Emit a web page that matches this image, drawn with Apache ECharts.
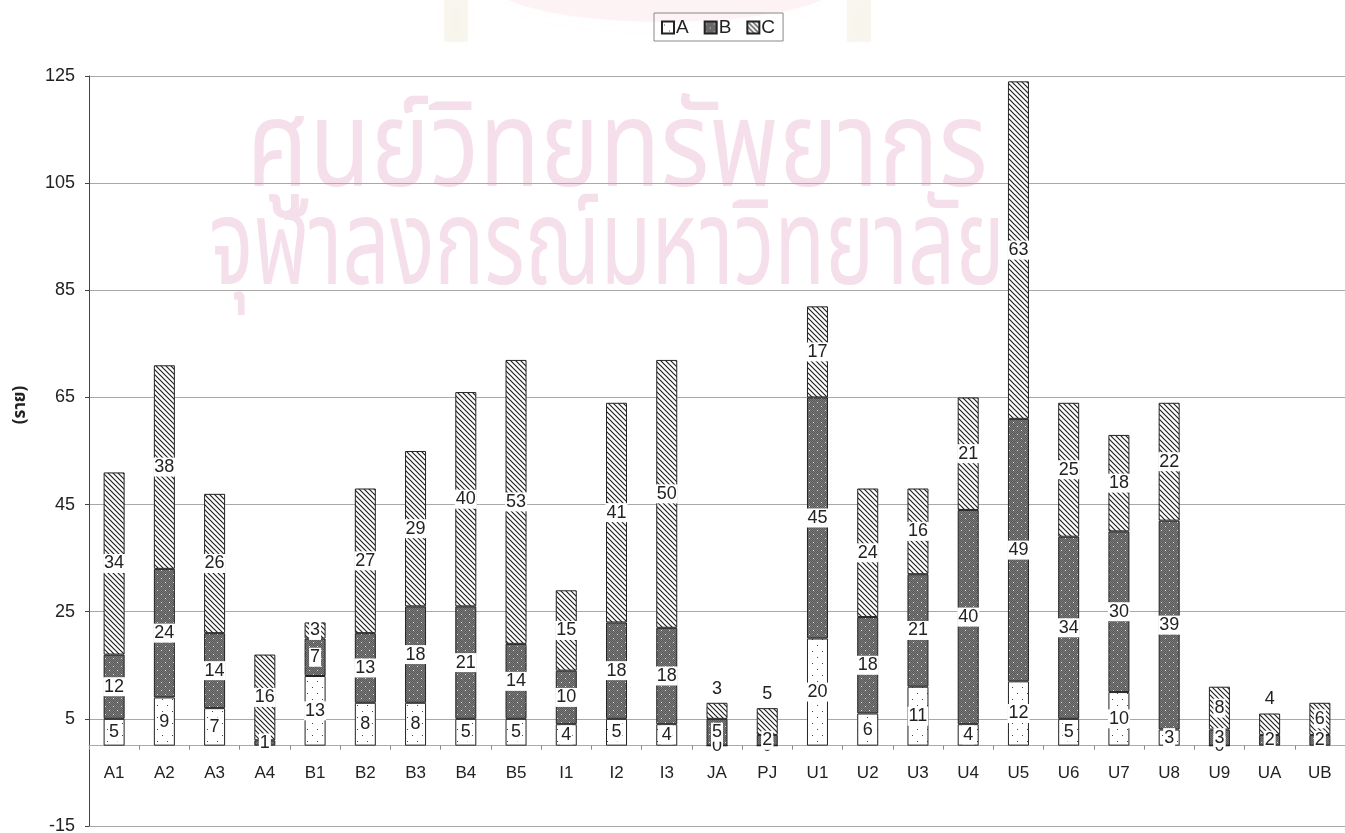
<!DOCTYPE html>
<html>
<head>
<meta charset="utf-8">
<script src="https://cdn.jsdelivr.net/npm/echarts@6/dist/echarts.min.js"></script>
<style>
  html, body { margin: 0; padding: 0; background: #fff; }
  #chart { width: 1345px; height: 833px; }
</style>
</head>
<body>
<div id="chart"></div>
<script>
// Categories along the x axis
const categories = ['A1','A2','A3','A4','B1','B2','B3','B4','B5','I1','I2','I3','JA','PJ','U1','U2','U3','U4','U5','U6','U7','U8','U9','UA','UB'];
// Stacked counts per group (ราย)
const valuesA = [5, 9, 7, null, 13, 8, 8, 5, 5, 4, 5, 4, 0, 0, 20, 6, 11, 4, 12, 5, 10, 3, 0, null, null];
const valuesB = [12, 24, 14, 1, 7, 13, 18, 21, 14, 10, 18, 18, 5, 2, 45, 18, 21, 40, 49, 34, 30, 39, 3, 2, 2];
const valuesC = [34, 38, 26, 16, 3, 27, 29, 40, 53, 15, 41, 50, 3, 5, 17, 24, 16, 21, 63, 25, 18, 22, 8, 4, 6];
const seriesNames = ['A', 'B', 'C'];
// Value axis range and step
const yMin = -15, yMax = 125, yStep = 20;
// Groups whose C label sits above the bar
const cLabelAbove = ['JA', 'PJ', 'UA'];

// Fill patterns for the three series
function makeTile(w, h, draw) {
  const c = document.createElement('canvas');
  c.width = w; c.height = h;
  draw(c.getContext('2d'), w, h);
  return c;
}
const tileA = makeTile(10, 12, (g, w, h) => {
  g.fillStyle = '#fff'; g.fillRect(0, 0, w, h);
  g.fillStyle = '#444';
  g.fillRect(2, 3, 1, 1);
  g.fillRect(7, 9, 1, 1);
});
const tileB = makeTile(8, 8, (g, w, h) => {
  g.fillStyle = '#787878'; g.fillRect(0, 0, w, h);
  g.fillStyle = '#5a5a5a';
  for (let y = 0; y < h; y++) for (let x = (y % 2); x < w; x += 2) g.fillRect(x, y, 1, 1);
  g.fillStyle = '#e6e6e6';
  g.fillRect(1, 2, 1, 1);
  g.fillRect(5, 6, 1, 1);
});
const tileC = makeTile(5, 5, (g, w, h) => {
  g.fillStyle = '#fff'; g.fillRect(0, 0, w, h);
  g.strokeStyle = '#222'; g.lineWidth = 1.2;
  g.beginPath();
  g.moveTo(-1, -1); g.lineTo(w + 1, h + 1);
  g.moveTo(-1, h - 1); g.lineTo(1, h + 1);
  g.moveTo(w - 1, -1); g.lineTo(w + 1, 1);
  g.stroke();
});
const fills = [tileA, tileB, tileC].map(t => ({ image: t, repeat: 'repeat' }));

const textFont = 'Liberation Sans, Arial, sans-serif';
const thaiFont = 'Noto Sans Thai, Loma, Garuda, Noto Sans, sans-serif';

// Plot box; the category axis is lifted from the bottom edge to the zero line
const gridBox = { left: 89, right: 0, top: 76, bottom: 7 };
const plotHeight = 833 - gridBox.top - gridBox.bottom;
const zeroOffset = -plotHeight * (0 - yMin) / (yMax - yMin);

const segLabel = {
  show: true,
  position: 'inside',
  color: '#222',
  fontSize: 18,
  fontFamily: textFont,
  backgroundColor: '#fff',
  padding: [1, 1, 0, 1],
  formatter: p => String(p.value)
};

const dataC = valuesC.map((v, i) =>
  cLabelAbove.includes(categories[i])
    ? { value: v, label: { position: 'top', distance: 5, backgroundColor: 'transparent' } }
    : v
);

const seriesData = [valuesA, valuesB, dataC];

const series = seriesNames.map((name, k) => ({
  name: name,
  type: 'bar',
  stack: 'total',
  barWidth: 21,
  data: seriesData[k],
  itemStyle: { color: fills[k], borderColor: '#222', borderWidth: 1 },
  label: segLabel,
  emphasis: { disabled: true }
}));

const chart = echarts.init(document.getElementById('chart'), null, { renderer: 'canvas' });
chart.setOption({
  animation: false,
  backgroundColor: '#fff',
  textStyle: { fontFamily: textFont },
  grid: Object.assign({ outerBoundsMode: 'none', containLabel: false }, gridBox),
  legend: {
    data: seriesNames,
    top: 13,
    left: 654,
    icon: 'rect',
    itemWidth: 12,
    itemHeight: 12,
    itemGap: 15,
    padding: [5, 8, 4, 7],
    borderColor: '#888',
    borderWidth: 1,
    textStyle: { fontSize: 19, color: '#222', padding: [0, 0, 0, -3] },
    selectedMode: false
  },
  xAxis: {
    type: 'category',
    data: categories,
    position: 'bottom',
    offset: zeroOffset,
    axisLine: { onZero: false, lineStyle: { color: '#aaa', width: 1 } },
    axisTick: { show: true, length: 4, lineStyle: { color: '#888' } },
    axisLabel: { fontSize: 17, color: '#222', margin: 19 }
  },
  yAxis: {
    type: 'value',
    min: yMin,
    max: yMax,
    interval: yStep,
    axisLine: { show: true, lineStyle: { color: '#444' } },
    axisTick: { show: true, length: 4, lineStyle: { color: '#444' } },
    axisLabel: { fontSize: 18, color: '#222', margin: 14 },
    splitLine: { show: true, lineStyle: { color: '#a8a8a8', width: 1 } }
  },
  graphic: [
    // faint emblem behind the legend
    { type: 'ellipse', z: -20, silent: true,
      shape: { cx: 665, cy: -18, rx: 175, ry: 40 },
      style: { fill: 'rgba(240,170,185,0.13)', shadowBlur: 25, shadowColor: 'rgba(240,170,185,0.2)' } },
    { type: 'rect', z: -20, silent: true, shape: { x: 444, y: 0, width: 24, height: 42 },
      style: { fill: 'rgba(235,228,200,0.28)', shadowBlur: 8, shadowColor: 'rgba(235,228,200,0.3)' } },
    { type: 'rect', z: -20, silent: true, shape: { x: 847, y: 0, width: 24, height: 42 },
      style: { fill: 'rgba(235,228,200,0.28)', shadowBlur: 8, shadowColor: 'rgba(235,228,200,0.3)' } },
    // library watermark
    { type: 'text', z: -20, silent: true, x: 617, y: 222, scaleY: 1.2,
      style: { text: 'ศูนย์วิทยทรัพยากร', font: '100px ' + thaiFont, fill: '#f5dfea', align: 'center', verticalAlign: 'bottom' } },
    { type: 'text', z: -20, silent: true, x: 607, y: 320, scaleX: 0.83, scaleY: 1.2,
      style: { text: 'จุฬาลงกรณ์มหาวิทยาลัย', font: '100px ' + thaiFont, fill: '#f5dfea', align: 'center', verticalAlign: 'bottom' } },
    // value axis title
    { type: 'text', silent: true, x: 22, y: 405, rotation: Math.PI / 2,
      style: { text: '(ราย)', font: 'bold 17px ' + thaiFont, fill: '#222', align: 'center', verticalAlign: 'middle' } }
  ],
  series: series
});
</script>
</body>
</html>
